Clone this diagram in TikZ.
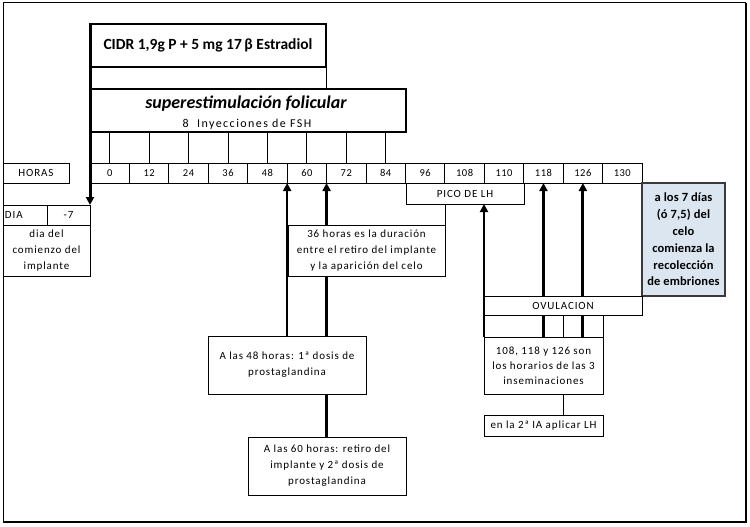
\documentclass[tikz,border=0pt]{standalone}
\usepackage{fontspec}
\setmainfont{Carlito}
\newfontfamily\spacedfont[LetterSpace=8]{Carlito}
\newfontfamily\hourfont[LetterSpace=5]{Carlito}
\newfontfamily\fshfont[LetterSpace=12]{Carlito}
\newfontfamily\bluefont[LetterSpace=1]{Carlito}
\usetikzlibrary{arrows.meta}
\definecolor{lightblue}{HTML}{DCE6F1}
\definecolor{bordergray}{HTML}{3A3A3A}
\begin{document}
\begin{tikzpicture}[x=1pt,y=-1pt,
  every node/.style={inner sep=0pt, outer sep=0pt, align=center},
  box/.style={draw, line width=0.9pt, fill=white, anchor=north west, font=\spacedfont\fontsize{11}{16}\selectfont},
  cell/.style={draw, line width=0.9pt, anchor=north west, minimum height=20pt, font=\spacedfont\fontsize{11}{12}\selectfont},
  hourcell/.style={cell, font=\hourfont\fontsize{10.5}{12}\selectfont},
  thinline/.style={line width=0.9pt},
  thickline/.style={line width=3pt},
  arrmid/.style={line width=2pt, -{Triangle[length=8pt,width=8pt]}},
  arrthick/.style={line width=3pt, -{Triangle[length=8pt,width=8pt]}}
]
\useasboundingbox (0,0) rectangle (750,527);
% outer frame
\draw[line width=1pt] (3,522) -- (3,3) -- (746,3);
\draw[line width=2pt] (746,3) -- (746,522) -- (3,522);

% CIDR box
\node[box, line width=2pt, minimum width=236pt, minimum height=43pt, font=\fontsize{15.5}{17}\bfseries] (cidr) at (90,24) {CIDR 1,9g P + 5 mg 17\,β Estradiol};
% superestimulacion box
\node[box, line width=1.5pt, minimum width=316pt, minimum height=43pt] (sup) at (90,89) {};
\node[font=\fontsize{18}{20}\bfseries\itshape] (supt1) at (246,104) {superestimulación folicular};
\node[font=\fshfont\fontsize{12}{13}\selectfont] (supt2) at (247,124) {8~ Inyecciones de FSH};
\draw[thinline] (cidr.south east) -- (cidr.south east |- sup.north);

% hours row
\node[cell, minimum width=66pt] (horas) at (3,163) {HORAS};
\foreach \v [count=\i from 0] in {0,12,24,36,48,60,72,84,96,108,110,118,126,130}{
  \node[hourcell, minimum width=39.43pt] (h\i) at ({90+\i*39.43},163) {\v};
}
\foreach \i in {0,...,7}{
  \draw[thinline] (h\i.north) -- (h\i.north |- sup.south);
}

% PICO DE LH
\node[box, minimum width=118pt, minimum height=21pt] (pico) at (406,183) {PICO DE LH};

% blue box
\node[draw=bordergray, line width=1.5pt, fill=lightblue, anchor=north west, minimum width=83pt, minimum height=113pt, font=\bluefont\fontsize{12.5}{16.8}\bfseries] (blue) at (642,183) {a los 7 días\\(ó 7,5) del\\celo\\comienza la\\recolección\\de embriones};

% DIA row
\node[cell, minimum width=44pt, align=left, text width=40pt] (dia) at (3,205) {DIA};
\node[cell, minimum width=43pt] (m7) at (47,205) {-7};
\node[box, minimum width=87pt, minimum height=51pt] (com) at (3,225) {dia del\\comienzo del\\implante};

% 36 horas box
\node[box, minimum width=157pt, minimum height=51pt] (b36) at (288,225) {36 horas es la duración\\entre el retiro del implante\\y la aparición del celo};
\draw[thinline] (b36.north east) -- (b36.north east |- pico.south);

% 48 and 60 boxes
\node[box, minimum width=158pt, minimum height=58pt] (b48) at (208,336) {A las 48 horas: 1ª dosis de\\prostaglandina};
\node[box, minimum width=158pt, minimum height=58pt] (b60) at (248,437) {A las 60 horas: retiro del\\implante y 2ª dosis de\\prostaglandina};

% arrows left group
\draw[arrmid] (h5.south west |- b48.north) -- (h5.south west);
\draw[arrthick] (h5.south east |- b36.north) -- (h5.south east);
\draw[thickline] (h5.south east |- b36.south) -- (h5.south east |- b48.north);
\draw[thickline] (h5.south east |- b48.south) -- (h5.south east |- b60.north);

% CIDR arrow
\draw[arrthick] (cidr.north west) -- (m7.north east);

% inseminaciones
\node[box, minimum width=119pt, minimum height=57pt, font=\spacedfont\fontsize{11}{15}\selectfont] (ins) at (484,337) {108, 118 y 126 son\\los horarios de las 3\\inseminaciones};
\node[box, minimum width=119pt, minimum height=21pt] (lh) at (484,415) {en la 2ª IA aplicar LH};
\draw[thinline] (ins.south -| h12.south west) -- (lh.north -| h12.south west);

\draw[arrmid] (ins.north west) -- (ins.north west |- pico.south);
\draw[arrthick] (ins.north -| h11.south) -- (h11.south);
\draw[arrthick] (ins.north -| h12.south) -- (h12.south);
\draw[thinline] (ins.north -| h12.south west) -- ++(0,-22);
\draw[thinline] (ins.north east) -- ++(0,-22);

% OVULACION
\node[box, minimum width=158pt, minimum height=19pt] (ovu) at (484,296) {OVULACION};
\end{tikzpicture}
\end{document}
